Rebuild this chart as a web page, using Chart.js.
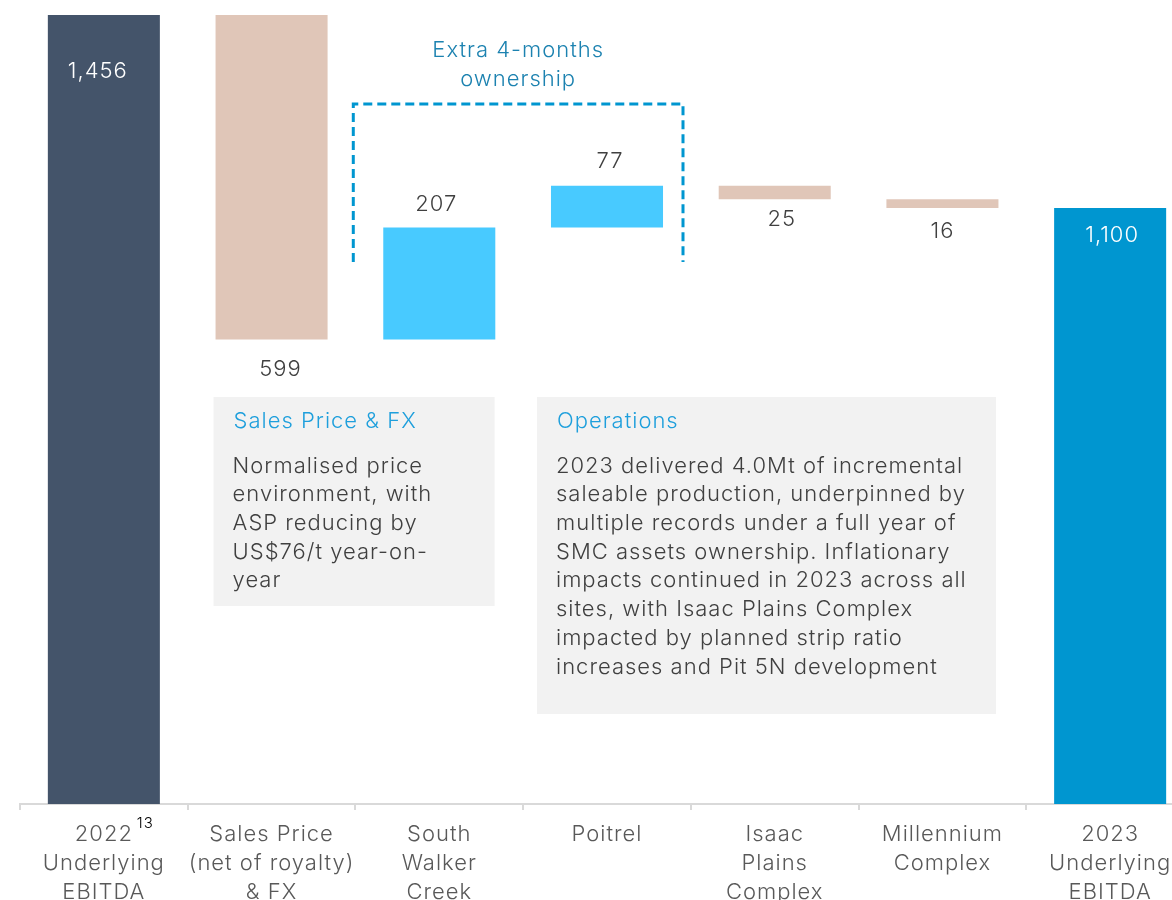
<!DOCTYPE html>
<html>
<head>
<meta charset="utf-8">
<script src="https://cdn.jsdelivr.net/npm/chart.js@4/dist/chart.umd.min.js"></script>
<style>
  html, body { margin: 0; padding: 0; background: #fff; overflow: hidden; }
  #wrap { width: 1194px; height: 900px; }
</style>
</head>
<body>
<div id="wrap"><canvas id="waterfall"></canvas></div>
<script>
const categories = [
  ['2022', 'Underlying', 'EBITDA'],
  ['Sales Price', '(net of royalty)', '& FX'],
  ['South', 'Walker', 'Creek'],
  ['Poitrel'],
  ['Isaac', 'Plains', 'Complex'],
  ['Millennium', 'Complex'],
  ['2023', 'Underlying', 'EBITDA']
]
const changes = [1456, -599, 207, 77, -25, -16, 1100]
const isTotal = [true, false, false, false, false, false, true]
const valueLabels = ['1,456', '599', '207', '77', '25', '16', '1,100']
const barColors = ['#44546A', '#E0C6B8', '#48CAFF', '#48CAFF', '#E0C6B8', '#E0C6B8', '#0096D0']

const priceNote = {
  title: 'Sales Price & FX',
  lines: ['Normalised price', 'environment, with', 'ASP reducing by', 'US$76/t year-on-', 'year']
}
const opsNote = {
  title: 'Operations',
  lines: [
    '2023 delivered 4.0Mt of incremental',
    'saleable production, underpinned by',
    'multiple records under a full year of',
    'SMC assets ownership. Inflationary',
    'impacts continued in 2023 across all',
    'sites, with Isaac Plains Complex',
    'impacted by planned strip ratio',
    'increases and Pit 5N development'
  ]
}

const FONT = 'Inter, "Noto Sans", sans-serif'

// floating bars built from the running total
const ranges = []
let running = 0
changes.forEach((v, i) => {
  if (isTotal[i]) {
    ranges.push([0, v])
    running = v
  } else {
    ranges.push([running, running + v])
    running += v
  }
})

// label nudges (dx, dy) relative to the default spot of each value label
const labelNudge = [[-6, 29], [9, 9], [-3, 2], [3, 1], [7, -1], [0, 2], [2, 0]]

const wideText = {
  id: 'wideText',
  beforeLayout(chart) { chart.ctx.letterSpacing = '1px' },
  beforeDraw(chart) { chart.ctx.letterSpacing = '1px' }
}

const annotations = {
  id: 'annotations',
  afterDatasetsDraw(chart) {
    const { ctx, scales: { x } } = chart
    const meta = chart.getDatasetMeta(0)
    ctx.save()
    ctx.letterSpacing = '1px'

    // value labels
    ctx.textAlign = 'center'
    ctx.textBaseline = 'middle'
    ctx.font = '300 22px ' + FONT
    meta.data.forEach((bar, i) => {
      const top = Math.min(bar.y, bar.base)
      const bottom = Math.max(bar.y, bar.base)
      const [dx, dy] = labelNudge[i]
      if (isTotal[i]) {
        ctx.fillStyle = '#ffffff'
        ctx.fillText(valueLabels[i], bar.x + dx, top + 27 + dy)
      } else if (changes[i] < 0) {
        ctx.fillStyle = '#404040'
        ctx.fillText(valueLabels[i], bar.x + dx, bottom + 21 + dy)
      } else {
        ctx.fillStyle = '#404040'
        ctx.fillText(valueLabels[i], bar.x + dx, top - 25 + dy)
      }
    })

    // superscript on first category
    ctx.fillStyle = '#000000'
    ctx.font = '300 15px ' + FONT
    ctx.textAlign = 'left'
    ctx.fillText('13', x.getPixelForValue(0) + 33, 823)

    // dashed bracket
    const left = x.getPixelForValue(2) - 86
    const right = x.getPixelForValue(3) + 76
    ctx.strokeStyle = '#0096D0'
    ctx.lineWidth = 3
    ctx.setLineDash([9, 5])
    ctx.beginPath()
    ctx.moveTo(left, 262)
    ctx.lineTo(left, 104)
    ctx.lineTo(right, 104)
    ctx.lineTo(right, 262)
    ctx.stroke()
    ctx.setLineDash([])

    ctx.fillStyle = '#1C82B0'
    ctx.font = '300 22px ' + FONT
    ctx.textAlign = 'center'
    ctx.fillText('Extra 4-months', (left + right) / 2, 50)
    ctx.fillText('ownership', (left + right) / 2, 79)

    // note boxes
    const drawNote = (note, bx, by, bw, bh) => {
      ctx.fillStyle = '#F2F2F2'
      ctx.fillRect(bx, by, bw, bh)
      ctx.textAlign = 'left'
      ctx.font = '300 22px ' + FONT
      ctx.fillStyle = '#1E9FDC'
      ctx.fillText(note.title, bx + 20, by + 24)
      ctx.fillStyle = '#404040'
      note.lines.forEach((line, k) => {
        ctx.fillText(line, bx + 19, by + 69 + k * 28.7)
      })
    }
    drawNote(priceNote, x.getPixelForValue(1) - 58, 397, 281, 209)
    drawNote(opsNote, x.getPixelForValue(3) - 70, 397, 459, 317)

    ctx.restore()
  }
}

new Chart(document.getElementById('waterfall'), {
  type: 'bar',
  data: {
    labels: categories,
    datasets: [{
      data: ranges,
      backgroundColor: barColors,
      borderWidth: 0,
      barPercentage: 0.668,
      categoryPercentage: 1
    }]
  },
  options: {
    responsive: true,
    maintainAspectRatio: false,
    animation: false,
    layout: { padding: { left: 20, right: 0, top: 15, bottom: 0 } },
    plugins: {
      legend: { display: false },
      tooltip: { enabled: false }
    },
    scales: {
      y: {
        display: false,
        min: 0,
        max: 1456
      },
      x: {
        afterFit(scale) { scale.height = 96 },
        border: { display: true, color: '#D9D9D9', width: 2 },
        grid: {
          offset: true,
          drawOnChartArea: false,
          drawTicks: true,
          tickLength: 6,
          color: '#D9D9D9',
          lineWidth: 2
        },
        ticks: {
          maxRotation: 0,
          autoSkip: false,
          padding: 10,
          color: '#595959',
          font: { family: FONT, size: 22, weight: 300, lineHeight: 1.32 }
        }
      }
    }
  },
  plugins: [wideText, annotations]
})
</script>
</body>
</html>
